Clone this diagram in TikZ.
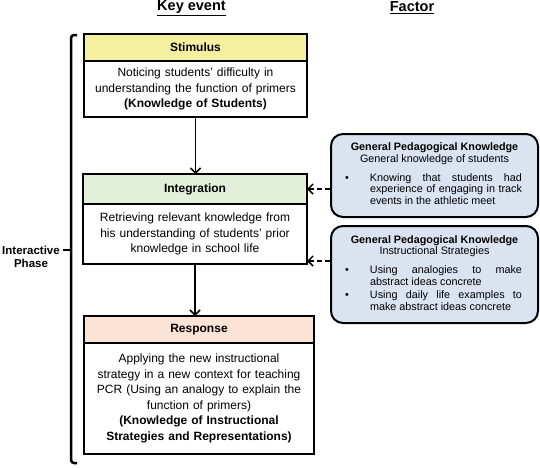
\documentclass[tikz,border=0pt]{standalone}
\usepackage{fontspec}
\setmainfont{Liberation Sans}
\usepackage{tikz}
\usetikzlibrary{positioning, arrows.meta}

\definecolor{stimyellow}{RGB}{245,240,160}
\definecolor{intgreen}{RGB}{226,239,217}
\definecolor{resppeach}{RGB}{251,228,213}
\definecolor{factorblue}{RGB}{218,227,240}

\newcommand{\factoritem}[1]{\par\noindent\makebox[25pt][l]{\textbullet}\parbox[t]{152pt}{\tolerance=10000 \strut#1\strut}\par}
\newcommand{\factortext}[3]{\begin{minipage}{179pt}{\centering\textbf{#1}\\#2\par}\vspace{7pt}#3\end{minipage}}

\begin{document}
\begin{tikzpicture}[
        x=1pt, y=1pt,
        heading/.style={
          font=\fontsize{14.5}{17}\selectfont\bfseries
        },
        stage/.style={
          draw, line width=2pt, outer sep=0pt, font=\fontsize{12}{14}\selectfont\bfseries
        },
        event/.style={
          draw, line width=2pt, outer sep=0pt, inner xsep=4pt, align=center,
          font=\fontsize{12}{15.5}\selectfont
        },
        factor/.style={
          draw, line width=2pt, rounded corners=12pt, fill=factorblue,
          inner xsep=14pt, font=\fontsize{10.8}{11.8}\selectfont
        },
        phaselabel/.style={
          align=center, font=\fontsize{11.5}{13.5}\selectfont\bfseries
        },
        flow/.style={->, line width=1.5pt},
        feed/.style={->, line width=1.5pt, dash pattern=on 5pt off 3pt},
        phasebrace/.style={line width=2.5pt, rounded corners=3pt},
        >={Straight Barb[length=5pt,width=10pt]},
      ]
        \useasboundingbox (0,0) rectangle (540,-467);

        % Column titles
        \node [heading] (keyevent) at (191.5,-8) {\underline{Key event}};
        \node [heading] (factorhead) at (412,-8) {\underline{Factor}};

        % Key events
        \node [stage, fill=stimyellow, minimum width=223pt, minimum height=27pt] (stimhead) at (195.5,-47.5) {Stimulus};
        \node [event, below=0pt of stimhead, text width=215pt, minimum height=56pt] (stimbody) {Noticing students' difficulty in\\understanding the function of primers\\\textbf{(Knowledge of Students)}};
        \node [stage, fill=intgreen, minimum width=224pt, minimum height=30pt] (inthead) at (195,-189) {Integration};
        \node [event, below=0pt of inthead, text width=216pt, minimum height=60pt] (intbody) {Retrieving relevant knowledge from\\his understanding of students' prior\\knowledge in school life};
        \node [stage, fill=resppeach, minimum width=230pt, minimum height=27pt] (resphead) at (199,-329.5) {Response};
        \node [event, below=0pt of resphead, text width=222pt, minimum height=111pt] (respbody) {Applying the new instructional\\strategy in a new context for teaching\\PCR (Using an analogy to explain the\\function of primers)\\\textbf{(Knowledge of Instructional}\\\textbf{Strategies and Representations)}};

        % Factors
        \node [factor, minimum height=83pt] (gpkstudents) at (434.5,-175.5) {\factortext{General Pedagogical Knowledge}{General knowledge of students}{%
          \factoritem{Knowing that students had\linebreak experience of engaging in track\linebreak events in the athletic meet}}};
        \node [factor, minimum height=97pt] (gpkstrategies) at (434.5,-274.5) {\factortext{General Pedagogical Knowledge}{Instructional Strategies}{%
          \factoritem{Using analogies to make\linebreak abstract ideas concrete}%
          \factoritem{Using daily life examples to\linebreak make abstract ideas concrete}}};

        % Flow
        \draw [flow] (stimbody.south) -- (stimbody.south |- inthead.north);
        \draw [flow] (intbody.south) -- (intbody.south |- resphead.north);

        % Factors into integration
        \coordinate (intlow) at ([yshift=3pt]intbody.south east);
        \draw [feed] (gpkstudents.west |- inthead.east) -- (inthead.east);
        \draw [feed] (gpkstrategies.west |- intlow) -- (intlow);

        % Phase
        \node [phaselabel] (phase) at (31,-257) {Interactive\\Phase};
        \coordinate (bracemid) at (71,-250);
        \draw [phasebrace] (77,-35) -- (71,-35) -- (71,-463) -- (77,-463);
        \draw [phasebrace] (bracemid) -- (bracemid -| phase.east);

      \end{tikzpicture}
\end{document}
